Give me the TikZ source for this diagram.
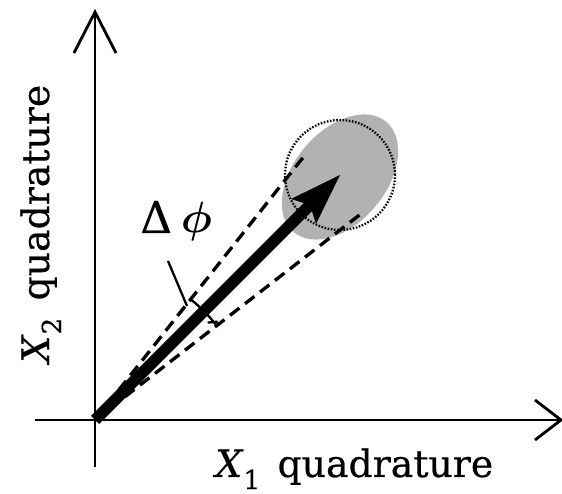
\documentclass[tikz,border=0pt]{standalone}
\usepackage{fontspec}
\setmainfont{DejaVu Serif}[FakeBold=0.5]
\usetikzlibrary{calc}
\begin{document}
\begin{tikzpicture}[x=0.02cm,y=0.02cm,
  axis/.style={line width=1.6pt},
  axtip/.style={line width=1.6pt, line join=miter},
  tang/.style={line width=1.9pt, dash pattern=on 6.8pt off 4pt},
  dotc/.style={line width=1.3pt, dash pattern=on 0.9pt off 0.9pt},
  thin/.style={line width=1.3pt},
  lab/.style={font=\fontsize{21.5}{24}\selectfont, inner sep=0pt}
]
\useasboundingbox (0,0) rectangle (562,494);
% key points
\coordinate (O) at (95,74);
\coordinate (C) at (340,319);
% gray ellipse
\fill[gray!60] (340,317) ellipse[x radius=72, y radius=46, rotate=50];
% axes
\coordinate (yb) at (95,27);
\coordinate (yt) at (95,482);
\coordinate (xl) at (35,74);
\coordinate (xr) at (561,74);
\draw[axis] (yb) -- (yt);
\draw[axtip] (74,441) -- (yt) -- (116,441);
\draw[axis] (xl) -- (xr);
\draw[axtip] (535,94) -- (xr) -- (535,54);
% dashed tangent lines
\coordinate (U) at (305,339);
\coordinate (L) at (362,281);
\draw[tang] (O) -- (U);
\draw[tang] (O) -- (L);
% dotted circle
\node[dotc, draw, circle, minimum size=110*0.02cm, inner sep=0pt] (circ) at (C) {};
% main arrow
\coordinate (N) at ($(C)+(-30,-30)$);
\draw[line width=6.6pt] (O) -- (N);
\fill (C) -- ($(C)+(-49,-24)$) -- (N) -- ($(C)+(-24,-49)$) -- cycle;
% angle bracket
\coordinate (A1) at ($(O)+(51.6:154)$);
\coordinate (A2) at ($(O)+(37.8:154)$);
\draw[thin] (A2) arc[start angle=37.8, end angle=51.6, radius=154];
\draw[thin] ($(A2)+(-9,3)$) -- ($(A2)+(1,4)$);
\coordinate (lead) at (168,233);
\draw[thin] (lead) -- (187,188);
% labels
\node[lab, anchor=base west, font=\fontsize{25}{28}\selectfont] (dphi) at (140,261) {Δ\hspace{5pt}{\boldmath$\phi$}};
\node[lab, anchor=base west] (x1) at (215,17) {\textit{X}\raisebox{-0.32em}{\fontsize{15}{15}\selectfont 1}\hspace{3pt} quadrature};
\node[lab, anchor=base west, rotate=90] (x2) at (49,131) {\textit{X}\raisebox{-0.32em}{\fontsize{15}{15}\selectfont 2}\hspace{3pt} quadrature};
\end{tikzpicture}
\end{document}
